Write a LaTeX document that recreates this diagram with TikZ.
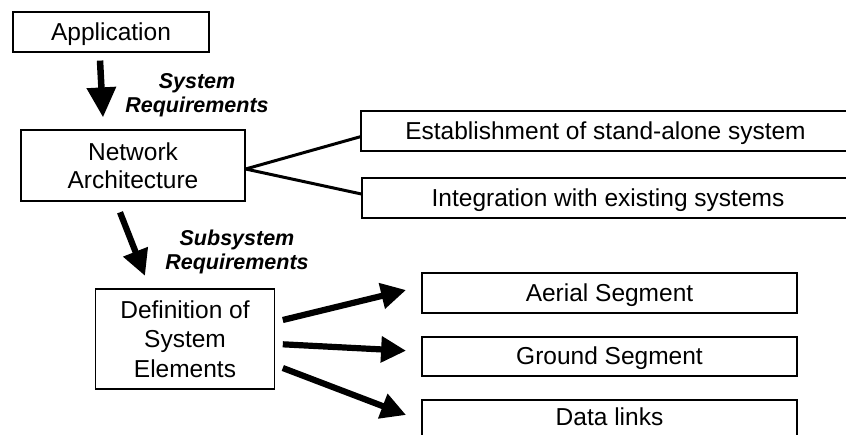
\documentclass[tikz,border=0pt]{standalone}
\usepackage{fontspec}
\setmainfont{Liberation Sans}
\usetikzlibrary{arrows.meta,calc}
\begin{document}
\begin{tikzpicture}[x=1pt,y=-1pt,
  box/.style={draw=black,line width=1.2pt,inner sep=0pt,font=\fontsize{24.5}{28}\selectfont,align=center},
  onebox/.style={box,text height=17.5pt,text depth=1pt},
  reqlabel/.style={font=\fontsize{21.5}{24}\selectfont\bfseries\itshape,align=center,inner sep=0pt},
  bigarrow/.style={line width=6.2pt,-{Triangle[length=25pt,width=25pt]}},
  branch/.style={line width=3pt}]
\fill[white] (0,0) rectangle (846,434);
\useasboundingbox (0,0) rectangle (846,434);
% boxes
\node[onebox,minimum width=196pt,minimum height=40pt] (app) at (111,32) {Application};
\node[box,minimum width=224pt,minimum height=71pt] (net) at (133,165.5) {Network\\Architecture};
\node[box,minimum width=179pt,minimum height=100pt,font=\fontsize{24.5}{29.7}\selectfont] (def) at (185,339) {Definition of\\System\\Elements};
\node[onebox,minimum width=489pt,minimum height=40pt] (est) at (605.5,131) {Establishment of stand-alone system};
\node[onebox,minimum width=492pt,minimum height=40pt] (int) at (608,198) {Integration with existing systems};
\node[onebox,minimum width=375pt,minimum height=40pt] (aer) at (609.5,293) {Aerial Segment};
\node[onebox,minimum width=375pt,minimum height=39pt] (gnd) at (609.5,356.5) {Ground Segment};
\node[box,text height=17.5pt,text depth=11pt,minimum width=375pt,minimum height=44pt] (dat) at (609.5,422) {Data links};
% labels
\node[reqlabel] (sysreq) at (197,95) {System\\Requirements};
\node[reqlabel] (subreq) at (237,251.5) {Subsystem\\Requirements};
% arrows
\draw[line width=6.5pt,-{Triangle[length=30pt,width=28pt]}] ($(app.south)+(-11,8)$) -- ($(net.north)+(-30,-12)$);
\draw[line width=6.2pt,-{Triangle[length=26pt,width=25pt]}] ($(net.south)+(-13,10.7)$) -- ($(def.north)+(-40,-12.5)$);
\draw[bigarrow] ($(def.east)+(7.7,-19)$) -- ($(aer.west)+(-15.3,-3)$);
\draw[bigarrow] ($(def.east)+(7.7,5.3)$) -- ($(gnd.west)+(-15.3,-5.8)$);
\draw[bigarrow] ($(def.east)+(7.7,29)$) -- ($(dat.west)+(-15.3,-7)$);
% branches
\draw[branch] ($(net.east)+(0,3.5)$) -- ($(est.west)+(0,5.7)$);
\draw[branch] ($(net.east)+(0,3.5)$) -- ($(int.west)+(0,-4)$);
\end{tikzpicture}
\end{document}
